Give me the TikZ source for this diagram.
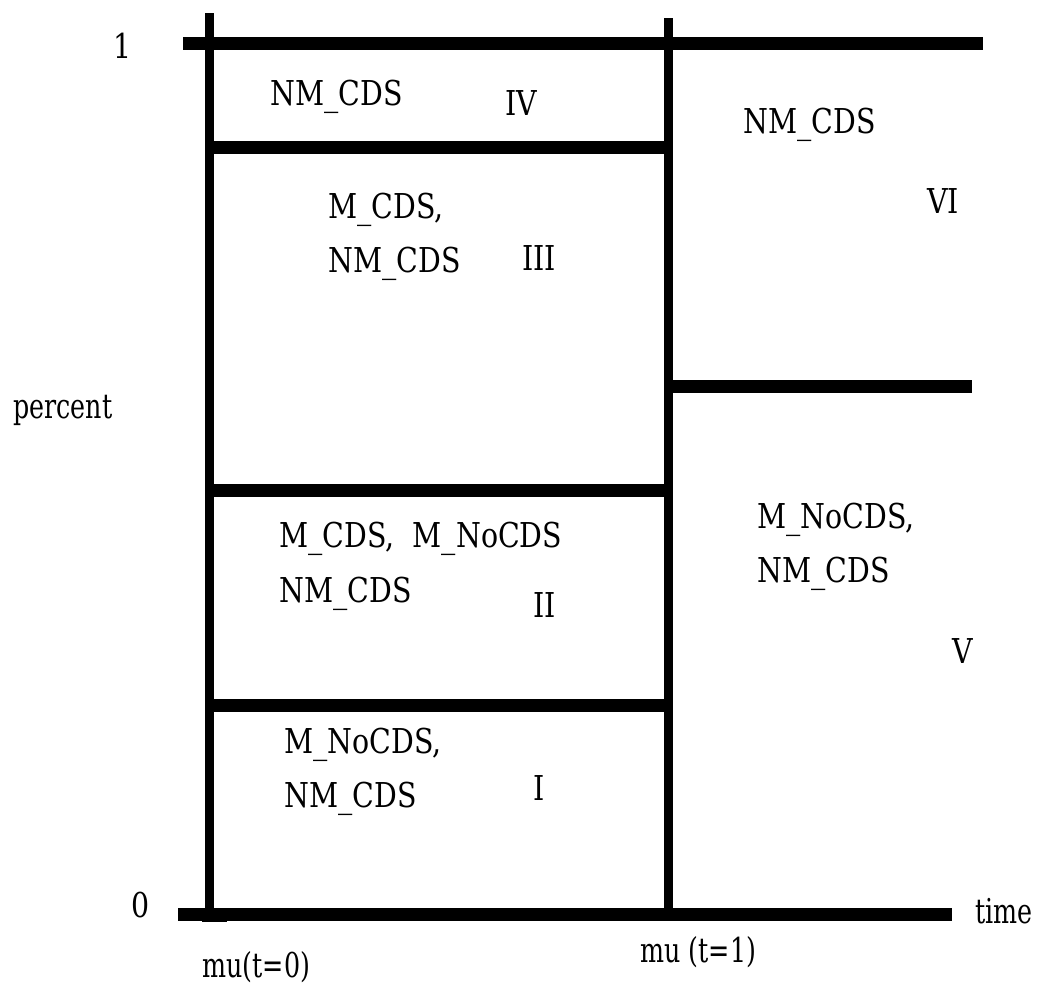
\documentclass[tikz,border=0pt]{standalone}
\usepackage{fontspec}
\setmainfont{DejaVu Serif}
\usetikzlibrary{positioning}
\newcommand{\narrow}[1]{\scalebox{0.83}[1]{#1}}
\newcommand{\slim}[1]{\scalebox{0.74}[1]{#1}}

\begin{document}
\begin{tikzpicture}[x=0.02cm, y=-0.02cm,
  lbl/.style={anchor=base west, inner sep=0pt, font=\fontsize{19.5}{24}\selectfont},
  hbar/.style={line width=0.26cm},
  vbar/.style={line width=0.18cm}]
\useasboundingbox (0,0) rectangle (1037,985);
% axes and frame
\draw[hbar] (183,43) -- (983,43);
\draw[hbar] (178,914) -- (952,914);
\draw[vbar] (209,13) -- (209,918);
\draw[vbar] (668,18) -- (668,914);
\fill (202,914) rectangle (227,922);
% region borders
\draw[hbar] (209,147) -- (668,147);
\draw[hbar] (209,490) -- (668,490);
\draw[hbar] (209,705) -- (668,705);
\draw[hbar] (668,386) -- (972,386);
% axis labels
\node[lbl] (one) at (113,58) {\narrow{1}};
\node[lbl] (zero) at (131,917) {\narrow{0}};
\node[lbl] (percent) at (13,418) {\slim{percent}};
\node[lbl] (time) at (975,923) {\slim{time}};
\node[lbl] (mu0) at (202,977) {\slim{mu(t=0)}};
\node[lbl] (mu1) at (640,962) {\slim{mu (t=1)}};
% region IV
\node[lbl] (ivA) at (270,105) {\narrow{NM\_CDS}};
\node[lbl] (iv) at (505,115) {\narrow{IV}};
% region III
\node[lbl] (iiiA) at (328,218) {\narrow{M\_CDS,}};
\node[lbl] (iiiB) at (328,272) {\narrow{NM\_CDS}};
\node[lbl] (iii) at (522,270) {\narrow{III}};
% region II
\node[lbl] (iiA) at (279,547) {\narrow{M\_CDS,\ \ M\_NoCDS}};
\node[lbl] (iiB) at (279,602) {\narrow{NM\_CDS}};
\node[lbl] (ii) at (533,617) {\narrow{II}};
% region I
\node[lbl] (iA) at (284,753) {\narrow{M\_NoCDS,}};
\node[lbl] (iB) at (284,807) {\narrow{NM\_CDS}};
\node[lbl] (i) at (533,800) {\narrow{I}};
% region VI
\node[lbl] (viA) at (743,133) {\narrow{NM\_CDS}};
\node[lbl] (vi) at (927,213) {\narrow{VI}};
% region V
\node[lbl] (vA) at (757,528) {\narrow{M\_NoCDS,}};
\node[lbl] (vB) at (757,582) {\narrow{NM\_CDS}};
\node[lbl] (v) at (952,663) {\narrow{V}};
\end{tikzpicture}
\end{document}
